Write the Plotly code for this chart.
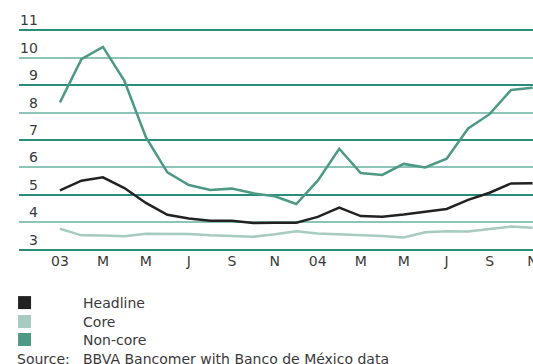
import plotly.graph_objects as go

months = list(range(23))  # Jan 2003 .. Nov 2004
tick_vals = [0, 2, 4, 6, 8, 10, 12, 14, 16, 18, 20, 22]
tick_text = ["03", "M", "M", "J", "S", "N", "04", "M", "M", "J", "S", "N"]
y_labels = [3, 4, 5, 6, 7, 8, 9, 10, 11]

headline = [5.17, 5.52, 5.64, 5.25, 4.71, 4.28, 4.14, 4.06, 4.06, 3.98, 3.99, 3.99,
            4.20, 4.54, 4.23, 4.21, 4.29, 4.38, 4.49, 4.82, 5.08, 5.42, 5.43]
core = [3.77, 3.53, 3.52, 3.50, 3.59, 3.59, 3.58, 3.53, 3.51, 3.48, 3.57, 3.68,
        3.60, 3.57, 3.52, 3.51, 3.45, 3.64, 3.68, 3.67, 3.76, 3.85, 3.81]
noncore = [8.37, 9.94, 10.39, 9.15, 7.10, 5.82, 5.36, 5.18, 5.23, 5.06, 4.95, 4.67,
           5.52, 6.68, 5.80, 5.73, 6.13, 6.00, 6.32, 7.42, 7.94, 8.82, 8.90]

series = [("Headline", headline, "#222222"),
          ("Core", core, "#a6cbc1"),
          ("Non-core", noncore, "#4e9886")]

FONT = "DejaVu Sans, Liberation Sans, sans-serif"
TXT = "#3a3a3a"
FS = 14

fig = go.Figure()
# draw order: core, headline, non-core lines
for name, vals, col in [series[1], series[0], series[2]]:
    fig.add_trace(go.Scatter(x=months, y=vals, mode="lines", name=name,
                             line=dict(color=col, width=2.5), showlegend=False,
                             hoverinfo="skip"))
legend_ids = ["legend", "legend2", "legend3"]
for (name, vals, col), lg in zip(series, legend_ids):
    fig.add_trace(go.Scatter(x=[None], y=[None], mode="markers", name=name,
                             marker=dict(symbol="square", size=13, color=col),
                             showlegend=True, legend=lg))

for v in y_labels:
    fig.add_annotation(x=0.0, xref="paper", xanchor="right", xshift=21,
                       y=v, yref="y", yanchor="bottom", yshift=0,
                       text=str(v), showarrow=False,
                       font=dict(family=FONT, size=FS, color=TXT))

fig.add_annotation(x=(15 - 19) / 514, xref="paper", xanchor="left", y=0, yref="paper",
                   yanchor="middle", yshift=-107.8, text="Source:", showarrow=False,
                   font=dict(family=FONT, size=FS, color=TXT))
fig.add_annotation(x=(81 - 19) / 514, xref="paper", xanchor="left", y=0, yref="paper",
                   yanchor="middle", yshift=-107.8,
                   text="BBVA Bancomer with Banco de México data", showarrow=False,
                   font=dict(family=FONT, size=FS, color=TXT))

leg_common = dict(x=-0.103, xanchor="left", yanchor="middle", orientation="v",
                  itemwidth=107, bgcolor="rgba(0,0,0,0)",
                  font=dict(family=FONT, size=FS, color=TXT), itemclick=False)

fig.update_layout(
    width=533, height=364,
    margin=dict(l=19, r=0, t=28.9, b=112.6, pad=0, autoexpand=False),
    paper_bgcolor="white", plot_bgcolor="white",
    font=dict(family=FONT, size=FS, color=TXT),
    xaxis=dict(range=[-1.907, 22.02], tickvals=tick_vals, ticktext=tick_text,
               showgrid=False, zeroline=False, showline=False, ticks="",
               ticklabeloverflow="allow",
               tickfont=dict(size=FS, color=TXT)),
    yaxis=dict(range=[2.96, 11.04], tickvals=[3, 5, 7, 9, 11], showticklabels=False,
               gridcolor="#2a8c7a", gridwidth=1.5, zeroline=False, showline=False,
               ticks="",
               minor=dict(dtick=1, tick0=3, showgrid=True, gridcolor="#8cc4b8",
                          gridwidth=1.5, ticks="")),
    legend=dict(y=-0.2342, **leg_common),
    legend2=dict(y=-0.3196, **leg_common),
    legend3=dict(y=-0.4005, **leg_common),
    showlegend=True,
)

fig.write_html("out.html")
